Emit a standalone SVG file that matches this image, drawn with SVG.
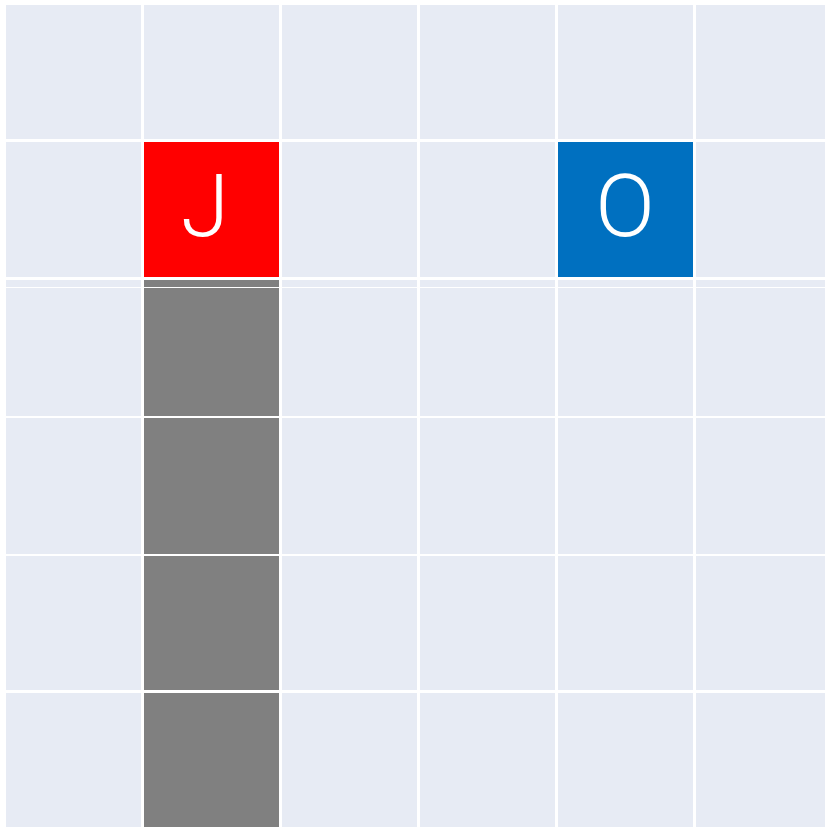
<svg xmlns="http://www.w3.org/2000/svg" width="825" height="827" viewBox="0 0 825 827">
<style>
.c{fill:#e7ebf4}
.g{fill:#808080}
.r{fill:#ff0000}
.b{fill:#0070c0}
.t{font-family:Roboto,"Liberation Sans",sans-serif;font-weight:300;font-size:88px;fill:#ffffff;text-anchor:middle}
</style>
<rect width="825" height="827" fill="#ffffff"/>
<g id="grid">
<rect class="c" x="6" y="5" width="135" height="134"/>
<rect class="c" x="144" y="5" width="135" height="134"/>
<rect class="c" x="282" y="5" width="135" height="134"/>
<rect class="c" x="420" y="5" width="135" height="134"/>
<rect class="c" x="558" y="5" width="135" height="134"/>
<rect class="c" x="696" y="5" width="135" height="134"/>
<rect class="c" x="6" y="142" width="135" height="135"/>
<rect class="c" x="282" y="142" width="135" height="135"/>
<rect class="c" x="420" y="142" width="135" height="135"/>
<rect class="c" x="696" y="142" width="135" height="135"/>
<rect class="c" x="6" y="280" width="135" height="136"/>
<rect class="c" x="282" y="280" width="135" height="136"/>
<rect class="c" x="420" y="280" width="135" height="136"/>
<rect class="c" x="558" y="280" width="135" height="136"/>
<rect class="c" x="696" y="280" width="135" height="136"/>
<rect class="c" x="6" y="418" width="135" height="136"/>
<rect class="c" x="282" y="418" width="135" height="136"/>
<rect class="c" x="420" y="418" width="135" height="136"/>
<rect class="c" x="558" y="418" width="135" height="136"/>
<rect class="c" x="696" y="418" width="135" height="136"/>
<rect class="c" x="6" y="556" width="135" height="134"/>
<rect class="c" x="282" y="556" width="135" height="134"/>
<rect class="c" x="420" y="556" width="135" height="134"/>
<rect class="c" x="558" y="556" width="135" height="134"/>
<rect class="c" x="696" y="556" width="135" height="134"/>
<rect class="c" x="6" y="693" width="135" height="134"/>
<rect class="c" x="282" y="693" width="135" height="134"/>
<rect class="c" x="420" y="693" width="135" height="134"/>
<rect class="c" x="558" y="693" width="135" height="134"/>
<rect class="c" x="696" y="693" width="135" height="134"/>
</g>
<g id="body">
<rect class="g" x="144" y="280" width="135" height="136"/>
<rect class="g" x="144" y="418" width="135" height="136"/>
<rect class="g" x="144" y="556" width="135" height="134"/>
<rect class="g" x="144" y="693" width="135" height="134"/>
</g>
<g id="connectors">
<line x1="0" y1="287.5" x2="825" y2="287.5" stroke="#ffffff" stroke-width="1"/>
</g>
<g id="nodeJ">
<rect class="r" x="144" y="142" width="135" height="135"/>
<text class="t" x="205" y="236">J</text>
</g>
<g id="nodeO">
<rect class="b" x="558" y="142" width="135" height="135"/>
<text class="t" x="625" y="236">O</text>
</g>
</svg>
